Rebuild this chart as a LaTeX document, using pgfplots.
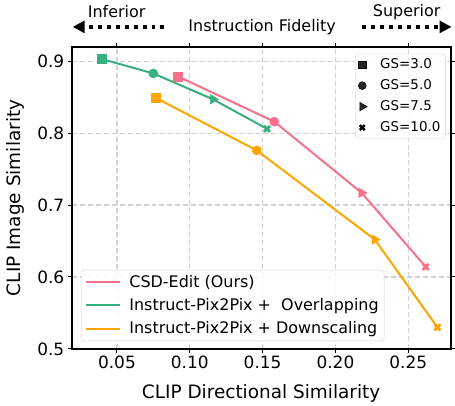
\documentclass[border=0pt]{standalone}
\usepackage{pgfplots}
\pgfplotsset{compat=1.18}
\usepackage{pgfplotstable}
\usepackage{fontspec}
\setmainfont{DejaVu Sans}
\usetikzlibrary{arrows.meta}
\definecolor{cpink}{HTML}{F7708A}
\definecolor{cgreen}{HTML}{36B07E}
\definecolor{corange}{HTML}{FFA500}
\pgfplotstableread{
x y
0.0918 0.879
0.158 0.816
0.218 0.717
0.262 0.614
}\csd
\pgfplotstableread{
x y
0.0397 0.903
0.075 0.883
0.116 0.847
0.153 0.806
}\overl
\pgfplotstableread{
x y
0.0767 0.849
0.146 0.776
0.227 0.652
0.270 0.530
}\downs
\pgfplotsset{
  sqm/.style={only marks, forget plot, mark=square*, mark size=4.5pt, mark indices={1}, color=#1},
  cim/.style={only marks, forget plot, mark=*, mark size=4.6pt, mark indices={2}, color=#1},
  trm/.style={only marks, forget plot, mark=triangle*, mark size=5.5pt, mark options={rotate=-90}, mark indices={3}, color=#1},
  xm/.style={only marks, forget plot, mark=x, mark size=4.3pt, mark options={line width=2.8pt}, mark indices={4}, color=#1},
}
\begin{document}
\begin{tikzpicture}
\begin{axis}[
  name=ax,
  scale only axis,
  width=380pt, height=303pt,
  xmin=0.019, xmax=0.279,
  ymin=0.5, ymax=0.92,
  xtick={0.05,0.10,0.15,0.20,0.25},
  xticklabels={0.05,0.10,0.15,0.20,0.25},
  ytick={0.5,0.6,0.7,0.8,0.9},
  yticklabels={0.5,0.6,0.7,0.8,0.9},
  tick align=outside,
  major tick length=4pt,
  tick style={black, line width=1pt},
  axis line style={black, line width=2pt},
  grid=major,
  grid style={gray!35, line width=1.2pt, dash pattern=on 5pt off 3pt},
  ticklabel style={font=\fontsize{17}{17}\selectfont},
  xlabel={CLIP Directional Similarity},
  ylabel={CLIP Image Similarity},
  label style={font=\fontsize{18.5}{18.5}\selectfont},
  xlabel style={at={(axis description cs:0.5,0)}, anchor=north, yshift=-32pt},
  ylabel style={at={(axis description cs:0,0.5)}, anchor=south, yshift=44pt},
  legend style={at={(axis description cs:0.024,0.026)}, anchor=south west,
    font=\fontsize{16}{16}\selectfont, draw=gray!35, rounded corners=3pt,
    fill=white, fill opacity=0.85, text opacity=1, row sep=5.5pt,
    inner sep=3.5pt, /tikz/every odd column/.style={column sep=6pt}},
  legend cell align=left,
  legend image code/.code={\draw[#1, line width=2pt] (0pt,0pt) -- (35pt,0pt);},
]
\addplot[cpink, line width=2pt] table {\csd};
\addlegendentry{CSD-Edit (Ours)}
\addplot[sqm=cpink] table {\csd};
\addplot[cim=cpink] table {\csd};
\addplot[trm=cpink] table {\csd};
\addplot[xm=cpink] table {\csd};
\addplot[cgreen, line width=2pt] table {\overl};
\addlegendentry{Instruct-Pix2Pix +\ \ Overlapping}
\addplot[sqm=cgreen] table {\overl};
\addplot[cim=cgreen] table {\overl};
\addplot[trm=cgreen] table {\overl};
\addplot[xm=cgreen] table {\overl};
\addplot[corange, line width=2pt] table {\downs};
\addlegendentry{Instruct-Pix2Pix + Downscaling}
\addplot[sqm=corange] table {\downs};
\addplot[cim=corange] table {\downs};
\addplot[trm=corange] table {\downs};
\addplot[xm=corange] table {\downs};
\end{axis}
\begin{axis}[
  scale only axis, width=380pt, height=303pt,
  xmin=0, xmax=1, ymin=0, ymax=1, hide axis,
  legend style={at={(axis description cs:0.987,0.977)}, anchor=north east,
    font=\fontsize{13.5}{13.5}\selectfont, draw=gray!35, rounded corners=3pt,
    fill=white, fill opacity=0.85, text opacity=1, row sep=5.5pt, inner sep=3pt,
    /tikz/every odd column/.style={column sep=11pt}},
  legend cell align=left,
  legend image code/.code={\draw[mark repeat=2,mark phase=2,#1] plot coordinates {(0pt,0pt)(16pt,0pt)(32pt,0pt)};},
]
\addlegendimage{only marks, mark=square*, mark size=4pt, black}
\addlegendentry{GS=3.0}
\addlegendimage{only marks, mark=*, mark size=4pt, black}
\addlegendentry{GS=5.0}
\addlegendimage{only marks, mark=triangle*, mark size=5pt, mark options={rotate=-90}, black}
\addlegendentry{GS=7.5}
\addlegendimage{only marks, mark=x, mark size=3.5pt, mark options={line width=2.5pt}, black}
\addlegendentry{GS=10.0}
\end{axis}
\path ([shift={(-72pt,-54pt)}]ax.south west) rectangle ([shift={(3pt,47pt)}]ax.north east);
\begin{scope}[shift={(ax.north west)}]
\node[font=\fontsize{16}{16}\selectfont] at (45pt,35pt) {Inferior};
\node[font=\fontsize{16}{16}\selectfont] at (336pt,35pt) {Superior};
\node[font=\fontsize{16}{16}\selectfont] at (191pt,20pt) {Instruction Fidelity};
\draw[line width=4pt, dash pattern=on 4pt off 5pt, -{Triangle[length=12pt,width=12pt]}] (93pt,20pt) -- (1pt,20pt);
\draw[line width=4pt, dash pattern=on 4pt off 5pt, -{Triangle[length=12pt,width=12pt]}] (291pt,20pt) -- (381pt,20pt);
\end{scope}
\end{tikzpicture}
\end{document}
